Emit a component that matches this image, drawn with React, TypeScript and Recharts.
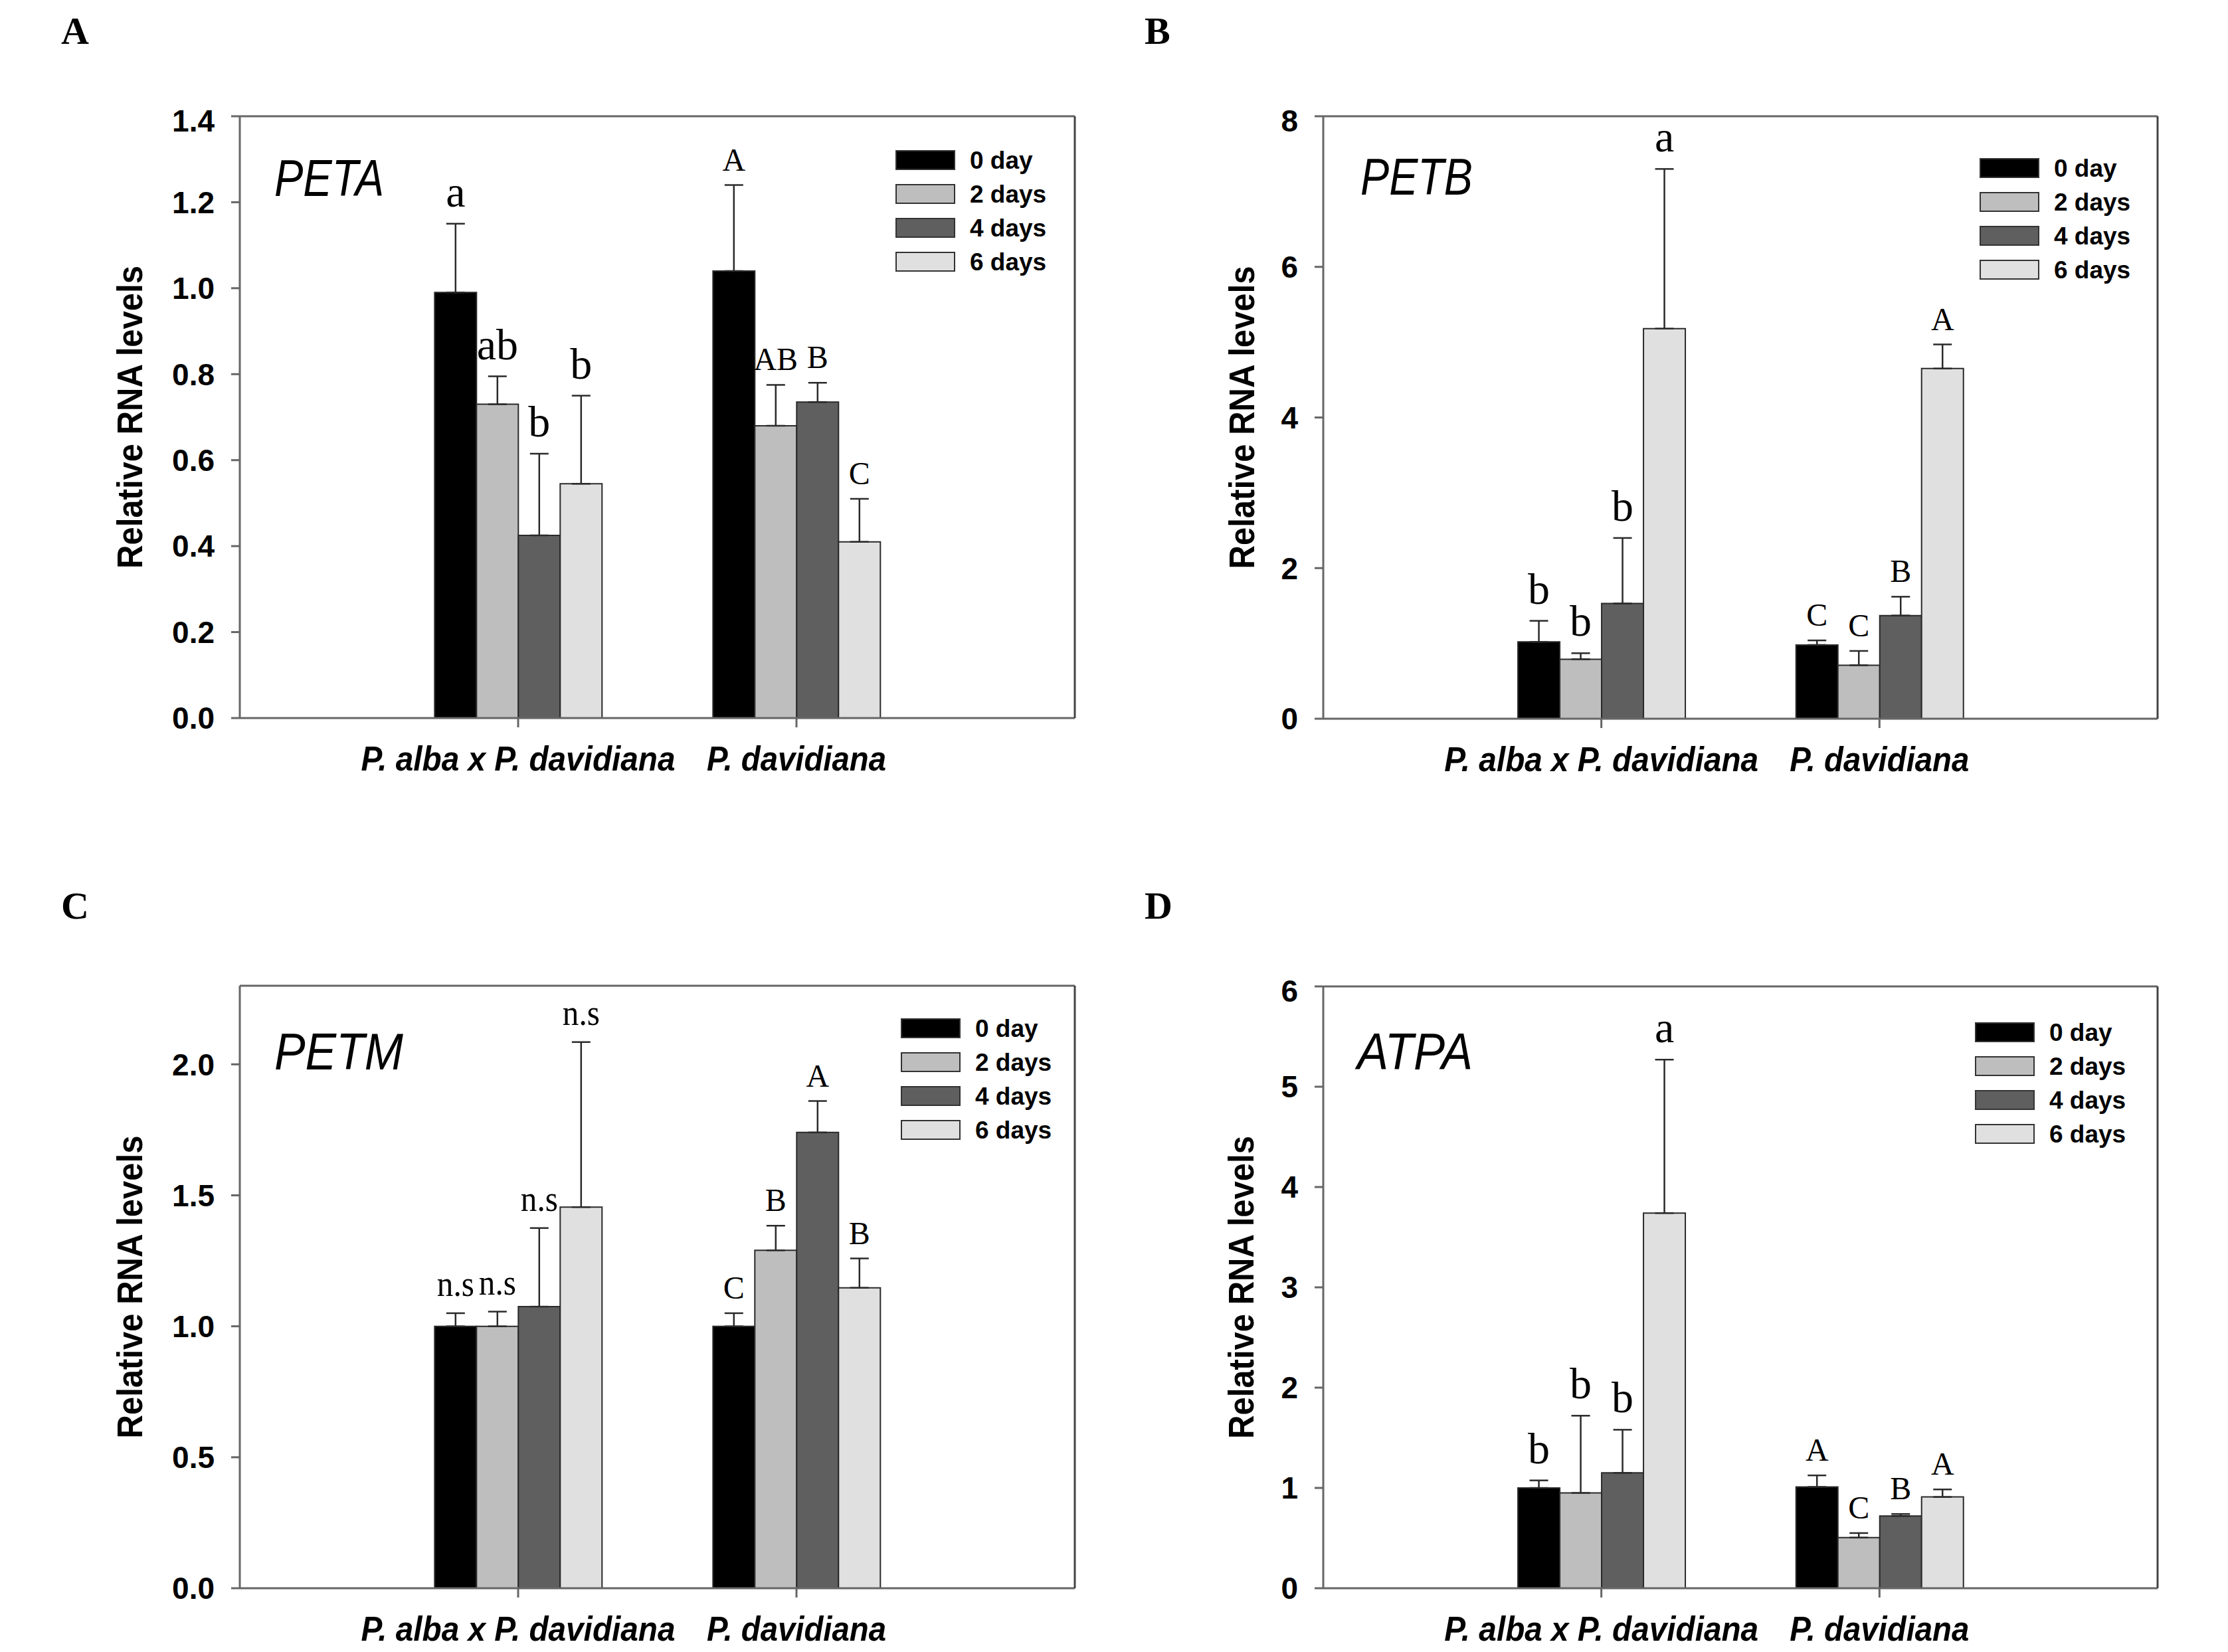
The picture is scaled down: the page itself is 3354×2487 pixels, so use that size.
import React from "react";
import { BarChart, Bar, XAxis, YAxis, ErrorBar, LabelList, Legend } from "recharts";

const SANS = '"Liberation Sans", Arial, Helvetica, sans-serif';
const SERIF = '"Liberation Serif", "Times New Roman", Times, serif';

const GROUPS = ["P. alba x P. davidiana", "P. davidiana"];
const GROUP_TEXT_LEN = [473, 270];
const DAYS = ["0 day", "2 days", "4 days", "6 days"];
const FILLS = ["#000000", "#bebebe", "#5f5f5f", "#e0e0e0"];

// rows = days, columns = groups
const PETA_MEAN = [[0.99, 1.04], [0.73, 0.68], [0.425, 0.735], [0.545, 0.41]];
const PETA_ERR = [[0.16, 0.2], [0.065, 0.095], [0.19, 0.045], [0.205, 0.1]];
const PETA_SIG = [["a", "A"], ["ab", "AB"], ["b", "B"], ["b", "C"]];
const PETA_TICKS = [0, 0.2, 0.4, 0.6, 0.8, 1.0, 1.2, 1.4];

const PETB_MEAN = [[1.02, 0.98], [0.79, 0.71], [1.53, 1.37], [5.18, 4.65]];
const PETB_ERR = [[0.28, 0.06], [0.08, 0.19], [0.87, 0.25], [2.12, 0.32]];
const PETB_SIG = [["b", "C"], ["b", "C"], ["b", "B"], ["a", "A"]];
const PETB_TICKS = [0, 2, 4, 6, 8];

const PETM_MEAN = [[1.0, 1.0], [1.0, 1.29], [1.075, 1.74], [1.455, 1.147]];
const PETM_ERR = [[0.05, 0.05], [0.056, 0.094], [0.3, 0.12], [0.63, 0.112]];
const PETM_SIG = [["n.s", "C"], ["n.s", "B"], ["n.s", "A"], ["n.s", "B"]];
const PETM_TICKS = [0, 0.5, 1.0, 1.5, 2.0];

const ATPA_MEAN = [[1.0, 1.01], [0.95, 0.505], [1.15, 0.72], [3.74, 0.91]];
const ATPA_ERR = [[0.075, 0.115], [0.77, 0.045], [0.43, 0.02], [1.53, 0.075]];
const ATPA_SIG = [["b", "A"], ["b", "C"], ["b", "B"], ["a", "A"]];
const ATPA_TICKS = [0, 1, 2, 3, 4, 5, 6];

const PANELS = [
  {
    letter: "A", gene: "PETA", mean: PETA_MEAN, err: PETA_ERR, sig: PETA_SIG, ticks: PETA_TICKS,
    yMax: 1.4, digits: 1, L: 361, T: 175, R: 1618, B: 1081,
    legend: [987, 51], geneAt: [52, 120], geneLen: 165, yLabelOff: 166, letterAt: [92, 66],
  },
  {
    letter: "B", gene: "PETB", mean: PETB_MEAN, err: PETB_ERR, sig: PETB_SIG, ticks: PETB_TICKS,
    yMax: 8, digits: 0, L: 1992, T: 175, R: 3248, B: 1082,
    legend: [988, 63], geneAt: [56, 118], geneLen: 169, yLabelOff: 123, letterAt: [1723, 66],
  },
  {
    letter: "C", gene: "PETM", mean: PETM_MEAN, err: PETM_ERR, sig: PETM_SIG, ticks: PETM_TICKS,
    yMax: 2.3, digits: 1, L: 361, T: 1484, R: 1618, B: 2391,
    legend: [995, 49], geneAt: [52, 126], geneLen: 194, yLabelOff: 166, letterAt: [92, 1383],
  },
  {
    letter: "D", gene: "ATPA", mean: ATPA_MEAN, err: ATPA_ERR, sig: ATPA_SIG, ticks: ATPA_TICKS,
    yMax: 6, digits: 0, L: 1992, T: 1485, R: 3248, B: 2391,
    legend: [981, 54], geneAt: [51, 125], geneLen: 174, yLabelOff: 124, letterAt: [1723, 1383],
  },
];

const YW = 260;
const XH = 140;
const MT = 19;
const MR = 19;

const sigLabel = (sig: string[], err: number[], mean: number[]) => (props: any) => {
  const i = props.index;
  if (i === undefined || sig[i] === undefined) return null;
  const vb = props.viewBox || props;
  const x = vb.x ?? props.x;
  const y = vb.y ?? props.y;
  const w = vb.width ?? props.width;
  const h = vb.height ?? props.height;
  const ppu = h / mean[i];
  const top = y - err[i] * ppu;
  const text = sig[i];
  const isNs = text === "n.s";
  const isUpper = !isNs && text === text.toUpperCase();
  const size = isNs ? 54 : isUpper ? 48 : 66;
  const gap = isUpper ? 22 : 26;
  return (
    <text
      x={x + w / 2}
      y={top - gap}
      textAnchor="middle"
      fontFamily={SERIF}
      fontSize={size}
      fill="#000"
      textLength={isNs ? 56 : undefined}
      lengthAdjust="spacingAndGlyphs"
    >
      {text}
    </text>
  );
};

const CatTick = (props: any) => {
  const { x, y, payload } = props;
  const idx = GROUPS.indexOf(payload.value);
  return (
    <text
      x={x}
      y={y + 65}
      textAnchor="middle"
      fontFamily={SANS}
      fontWeight="bold"
      fontStyle="italic"
      fontSize={52}
      fill="#000"
      textLength={idx >= 0 ? GROUP_TEXT_LEN[idx] : undefined}
      lengthAdjust="spacingAndGlyphs"
    >
      {payload.value}
    </text>
  );
};

const LegendBox = (props: any) => {
  const items = props.payload && props.payload.length ? props.payload : DAYS.map((d, i) => ({ value: d, color: FILLS[i] }));
  return (
    <svg width={270} height={200} style={{ display: "block", overflow: "visible" }}>
      {items.map((it: any, i: number) => (
        <g key={it.value}>
          <rect x={1} y={i * 51 + 1} width={88} height={28} fill={it.color} stroke="#333" strokeWidth={2} />
          <text x={112} y={i * 51 + 15} dominantBaseline="central" fontFamily={SANS} fontWeight="bold" fontSize={37} fill="#000">
            {it.value}
          </text>
        </g>
      ))}
    </svg>
  );
};

function Panel({ cfg }: { cfg: (typeof PANELS)[number] }) {
  const W = cfg.R - cfg.L;
  const H = cfg.B - cfg.T;
  const chartW = W + YW + MR + 1;
  const chartH = H + MT + 1 + XH;
  const data = GROUPS.map((g, gi) => {
    const row: any = { name: g };
    DAYS.forEach((_, di) => {
      row[`v${di}`] = cfg.mean[di][gi];
      row[`e${di}`] = [0, cfg.err[di][gi]];
    });
    return row;
  });
  const frame = { stroke: "#666", strokeWidth: 3 };
  const fmt = (v: number) => v.toFixed(cfg.digits);
  const yLabel = (p: any) => {
    const vb = p.viewBox || {};
    const cx = vb.x + vb.width - cfg.yLabelOff;
    const cy = vb.y + vb.height / 2;
    return (
      <text
        x={cx}
        y={cy}
        transform={`rotate(-90, ${cx}, ${cy})`}
        textAnchor="middle"
        dominantBaseline="central"
        fontFamily={SANS}
        fontWeight="bold"
        fontSize={54}
        fill="#000"
        textLength={456}
        lengthAdjust="spacingAndGlyphs"
      >
        Relative RNA levels
      </text>
    );
  };
  return (
    <div style={{ position: "absolute", left: cfg.L - YW, top: cfg.T - MT - 1 }}>
      <BarChart
        width={chartW}
        height={chartH}
        data={data}
        margin={{ top: MT, right: MR, left: 0, bottom: 0 }}
        barCategoryGap="20%"
        barGap={0}
      >
        <XAxis
          dataKey="name"
          height={XH}
          padding={{ left: W / 6, right: W / 6 }}
          interval={0}
          tickSize={14}
          tickMargin={0}
          tickLine={frame}
          axisLine={frame}
          tick={<CatTick />}
        />
        <XAxis xAxisId="top" orientation="top" dataKey="name" height={1} tick={false} tickLine={false} axisLine={frame} />
        <YAxis
          domain={[0, cfg.yMax]}
          allowDataOverflow
          ticks={cfg.ticks}
          width={YW}
          tickSize={13}
          tickMargin={25}
          tickLine={frame}
          axisLine={frame}
          tickFormatter={fmt}
          tick={{ fontFamily: SANS, fontWeight: "bold", fontSize: 46, fill: "#000" }}
          label={yLabel}
        />
        <YAxis
          yAxisId="right"
          orientation="right"
          domain={[0, cfg.yMax]}
          width={1}
          tick={false}
          tickLine={false}
          axisLine={{ stroke: "#444", strokeWidth: 3 }}
        />
        <Legend
          layout="vertical"
          align="center"
          verticalAlign="middle"
          content={<LegendBox />}
          wrapperStyle={{ left: YW + cfg.legend[0], top: MT + 1 + cfg.legend[1], width: 270, height: 200 }}
        />
        {DAYS.map((d, di) => (
          <Bar
            key={d}
            dataKey={`v${di}`}
            name={d}
            fill={FILLS[di]}
            stroke="#2a2a2a"
            strokeWidth={2}
            isAnimationActive={false}
          >
            <ErrorBar dataKey={`e${di}`} width={14} stroke="#2a2a2a" strokeWidth={2.5} direction="y" />
            <LabelList content={sigLabel(cfg.sig[di], cfg.err[di], cfg.mean[di])} />
          </Bar>
        ))}
      </BarChart>
    </div>
  );
}

export default function App() {
  return (
    <div style={{ position: "absolute", left: 0, top: 0, width: 3354, height: 2487, background: "#fff", overflow: "hidden" }}>
      {PANELS.map((p) => (
        <Panel key={p.letter} cfg={p} />
      ))}
      <svg width={3354} height={2487} style={{ position: "absolute", left: 0, top: 0, pointerEvents: "none" }}>
        {PANELS.map((p) => (
          <g key={p.letter}>
            <text x={p.letterAt[0]} y={p.letterAt[1]} fontFamily={SERIF} fontWeight="bold" fontSize={58} fill="#000">
              {p.letter}
            </text>
            <text
              x={p.L + p.geneAt[0]}
              y={p.T + p.geneAt[1]}
              fontFamily={SANS}
              fontStyle="italic"
              fontSize={78}
              fill="#000"
              textLength={p.geneLen}
              lengthAdjust="spacingAndGlyphs"
            >
              {p.gene}
            </text>
          </g>
        ))}
      </svg>
    </div>
  );
}
